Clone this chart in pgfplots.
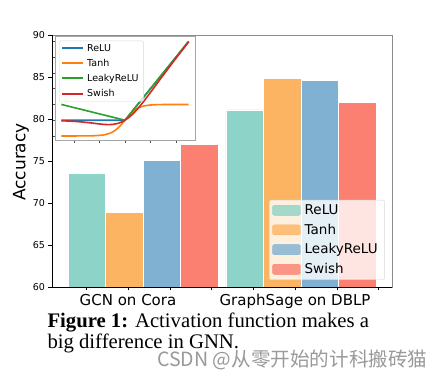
\documentclass[border=0pt]{standalone}
\usepackage{fontspec}
\setmainfont{DejaVu Sans}
\newfontfamily\capfont{Liberation Serif}
\newfontfamily\cjk{Noto Sans CJK SC}
\usepackage{pgfplots}
\pgfplotsset{compat=1.18}
\definecolor{cRelu}{HTML}{8DD3C7}
\definecolor{cTanh}{HTML}{FDB462}
\definecolor{cLeaky}{HTML}{80B1D3}
\definecolor{cSwish}{HTML}{FB8072}
\definecolor{tBlue}{HTML}{1F77B4}
\definecolor{tOrange}{HTML}{FF7F0E}
\definecolor{tGreen}{HTML}{2CA02C}
\definecolor{tRed}{HTML}{D62728}
\newcommand\lgA{\fontsize{13.5bp}{16bp}\selectfont}
\newcommand\lgB{\fontsize{9.5bp}{11bp}\selectfont}
\begin{document}
\begin{tikzpicture}
\useasboundingbox (0bp,0bp) rectangle (443bp,378bp);
\begin{axis}[
  at={(52bp,91bp)}, anchor=south west,
  width=340bp, height=252bp, scale only axis,
  xmin=0, xmax=340, ymin=60, ymax=90,
  ytick={60,65,...,90},
  xtick={34,76,118,159,201,243,285,326},
  xticklabels={{},GCN on Cora,{},{},{},GraphSage on DBLP,{},{}},
  xtick pos=bottom, ytick pos=left,
  tick align=outside, major tick length=3.5bp,
  tick style={black, line width=0.8bp},
  axis line style={draw=black!45, line width=0.8bp},
  /pgf/number format/assume math mode=true,
  yticklabel style={font=\fontsize{9.5bp}{11bp}\selectfont},
  xticklabel style={font=\fontsize{15bp}{18bp}\selectfont},
  ylabel={Accuracy},
  ylabel style={at={(axis description cs:-0.091,0.496)}, anchor=center, font=\fontsize{17bp}{20bp}\selectfont},
  legend style={at={(0.979,0.028)}, anchor=south east, draw=black!15, rounded corners=2bp,
    fill=white, fill opacity=0.8, text opacity=1, draw opacity=1,
    font=\lgA, inner xsep=3bp, inner ysep=3.5bp,
    row sep=6bp, nodes={inner xsep=4bp, inner ysep=1bp, font=\lgA}},
  legend cell align=left,
]
\addlegendimage{legend image code/.code={\fill[cRelu] (0bp,-5bp) rectangle (28bp,5bp);}}
\addlegendentry{\lgA ReLU}
\addlegendimage{legend image code/.code={\fill[cTanh] (0bp,-5bp) rectangle (28bp,5bp);}}
\addlegendentry{\lgA Tanh}
\addlegendimage{legend image code/.code={\fill[cLeaky] (0bp,-5bp) rectangle (28bp,5bp);}}
\addlegendentry{\lgA LeakyReLU}
\addlegendimage{legend image code/.code={\fill[cSwish] (0bp,-5bp) rectangle (28bp,5bp);}}
\addlegendentry{\lgA Swish}
\addplot[forget plot, ybar, bar width=37.5, bar shift=0pt, fill=cRelu, draw=white, line width=0.4bp] coordinates {(34.8,73.5) (192.6,81.1)};
\addplot[forget plot, ybar, bar width=37.5, bar shift=0pt, fill=cTanh, draw=white, line width=0.4bp] coordinates {(72.3,68.9) (230.1,84.8)};
\addplot[forget plot, ybar, bar width=37.5, bar shift=0pt, fill=cLeaky, draw=white, line width=0.4bp] coordinates {(109.8,75.1) (267.6,84.6)};
\addplot[forget plot, ybar, bar width=37.5, bar shift=0pt, fill=cSwish, draw=white, line width=0.4bp] coordinates {(147.3,77.0) (305.1,82.0)};
\end{axis}
\draw[black, line width=0.8bp] (52bp,343bp) -- (52bp,91bp) -- (392bp,91bp);
\begin{axis}[
  at={(55bp,237.3bp)}, anchor=south west,
  width=140bp, height=104bp, scale only axis,
  xmin=-5.5, xmax=5.5, ymin=-1.3, ymax=5.3,
  xtick={-4,-2,0,2,4}, ytick={-1,0,...,5},
  xticklabels={}, yticklabels={},
  tick align=outside, major tick length=2.5bp,
  xtick pos=bottom, ytick pos=left,
  tick style={black!70, line width=0.6bp},
  axis line style={draw=black!35, line width=0.8bp},
  axis background/.style={fill=white},
  legend style={at={(0.0286,0.9615)}, anchor=north west, draw=black!15, rounded corners=2bp,
    fill=white, fill opacity=0.8, text opacity=1, draw opacity=1,
    font=\lgB, inner xsep=2bp, inner ysep=2.5bp,
    row sep=4.8bp, nodes={inner xsep=3bp, inner ysep=0.8bp, font=\lgB}},
  legend cell align=left,
]
\addlegendimage{legend image code/.code={\draw[tBlue, line width=2bp] (0bp,0bp) -- (21bp,0bp);}}
\addlegendentry{\lgB ReLU}
\addlegendimage{legend image code/.code={\draw[tOrange, line width=2bp] (0bp,0bp) -- (21bp,0bp);}}
\addlegendentry{\lgB Tanh}
\addlegendimage{legend image code/.code={\draw[tGreen, line width=2bp] (0bp,0bp) -- (21bp,0bp);}}
\addlegendentry{\lgB LeakyReLU}
\addlegendimage{legend image code/.code={\draw[tRed, line width=2bp] (0bp,0bp) -- (21bp,0bp);}}
\addlegendentry{\lgB Swish}
\addplot[forget plot, tBlue, line width=1.6bp] coordinates {(-5,0) (0,0) (5,5)};
\addplot[forget plot, tOrange, line width=1.6bp, smooth] coordinates {(-5,-0.9999) (-4,-0.9993) (-3,-0.9951) (-2.5,-0.9866) (-2,-0.9640) (-1.5,-0.9051) (-1,-0.7616) (-0.5,-0.4621) (0,0) (0.5,0.4621) (1,0.7616) (1.5,0.9051) (2,0.9640) (2.5,0.9866) (3,0.9951) (4,0.9993) (5,0.9999)};
\addplot[forget plot, tGreen, line width=1.6bp] coordinates {(-5,1.0) (0,0) (5,5)};
\addplot[forget plot, tRed, line width=1.6bp, smooth] coordinates {(-5,-0.0335) (-4,-0.0719) (-3,-0.1423) (-2.5,-0.1896) (-2,-0.2384) (-1.5,-0.2736) (-1.25,-0.2784) (-1,-0.2689) (-0.5,-0.1888) (0,0) (0.5,0.3112) (1,0.7311) (1.5,1.2264) (2,1.7616) (2.5,2.3104) (3,2.8577) (4,3.9281) (5,4.9665)};
\end{axis}
\node[anchor=base west, inner sep=0pt, font=\capfont\fontsize{20.7bp}{24bp}\selectfont] at (47.3bp,50.3bp) {\textbf{Figure 1:} Activation function makes a};
\node[anchor=base west, inner sep=0pt, font=\capfont\fontsize{20.7bp}{24bp}\selectfont] at (47.3bp,30bp) {big difference in GNN.};
\node[anchor=west, inner sep=0pt, text=black!40, font=\cjk\fontsize{19.6bp}{22bp}\selectfont] at (157bp,18bp) {CSDN @从零开始的计科搬砖猫};
\end{tikzpicture}
\end{document}
